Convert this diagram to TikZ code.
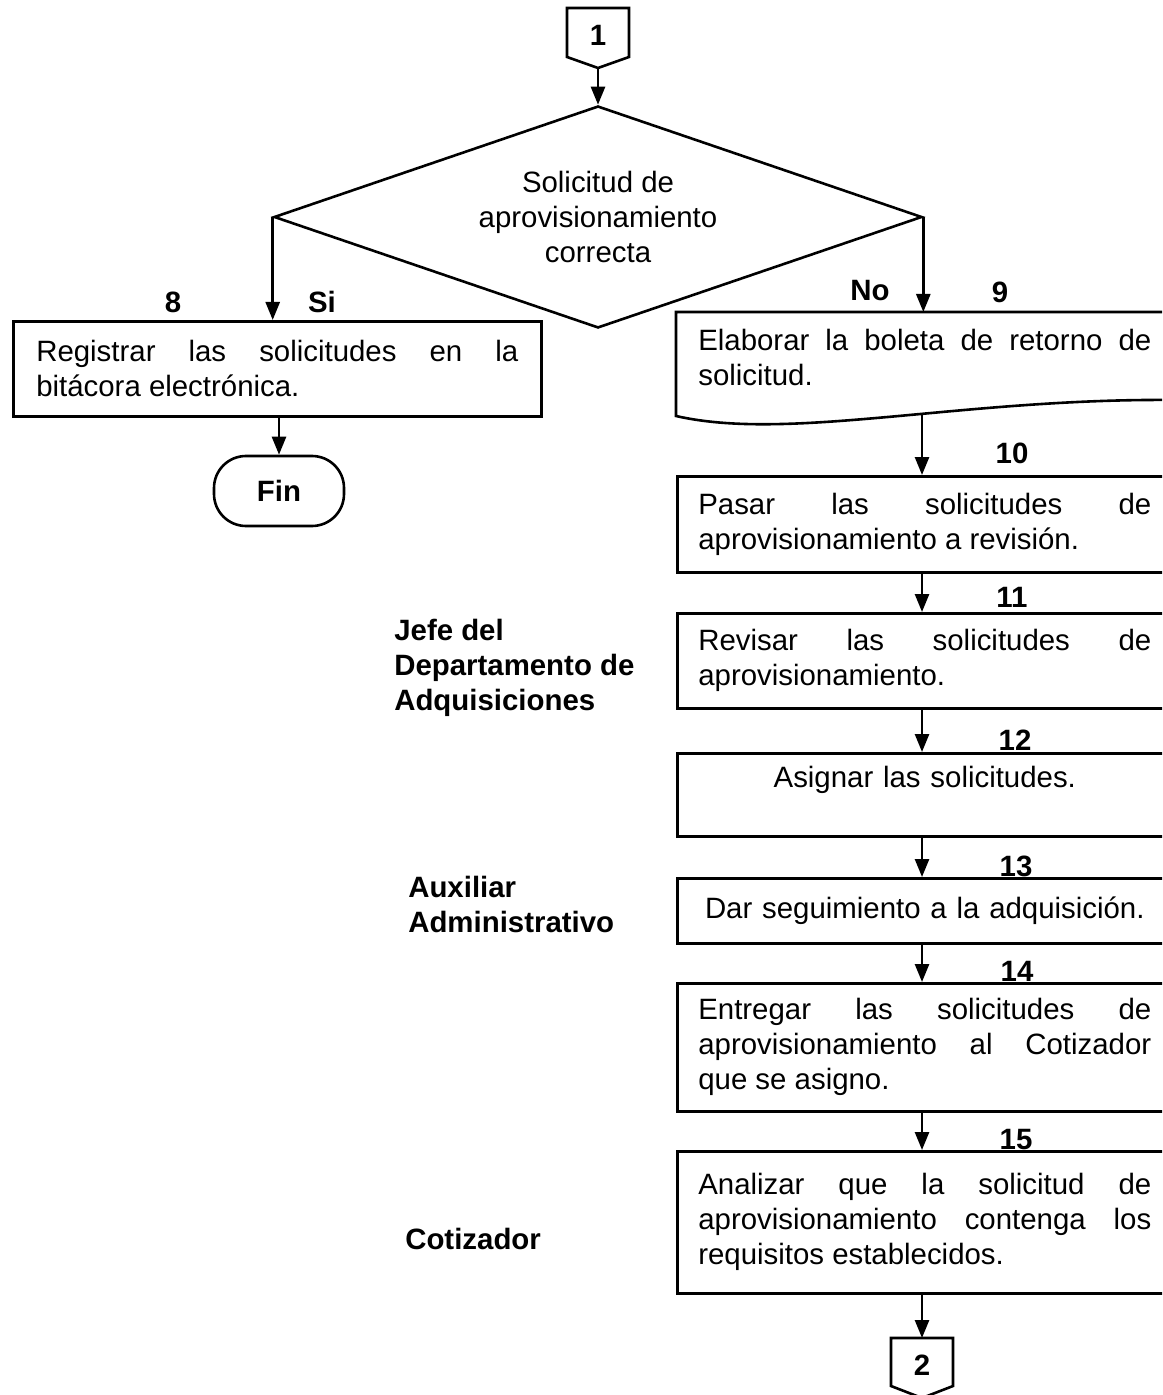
\documentclass[tikz,border=0pt]{standalone}
\usepackage{fontspec}
\setmainfont{Liberation Sans}
\usetikzlibrary{arrows.meta,shapes.geometric}
\newcommand{\flowfs}{\fontsize{14.7pt}{17.5pt}\selectfont}
\begin{document}
\begin{tikzpicture}[x=0.5pt,y=-0.5pt,
  line width=1.3pt,
  every node/.style={font=\flowfs},
  procbox/.style={draw, rectangle, anchor=north west, inner xsep=10.5pt,
    inner ysep=0pt, text width=226.5pt, align=justify},
  flowarrow/.style={-{Triangle[length=9pt,width=7pt]}},
  tag/.style={font=\flowfs\bfseries, inner sep=0pt},
  role/.style={font=\flowfs\bfseries, anchor=west, align=left, inner sep=0pt},
]
\useasboundingbox (0,0) rectangle (1162,1395);
\clip (0,0) rectangle (1162,1395);

% off-page connector 1
\draw (567,8) -- (629,8) -- (629,57) -- (598,68) -- (567,57) -- cycle;
\node[tag] (c1) at (598,35) {1};
\coordinate (c1tip) at (598,68);

% decision
\node[draw, diamond, aspect=2.9, minimum width=324pt, minimum height=111pt,
  inner sep=0pt, align=center] (dia) at (598,217)
  {Solicitud de\\aprovisionamiento\\correcta};
\draw[flowarrow] (c1tip) -- (dia.north);

% left branch
\node[procbox, text width=241pt, inner xsep=11.5pt, minimum height=47.5pt]
  (box8) at (12,320) {Registrar las solicitudes en la\linebreak bitácora electrónica.};
\node[draw, rounded corners=16pt, minimum width=65pt, minimum height=35pt,
  font=\flowfs\bfseries] (fin) at (279,491) {Fin};
\draw[flowarrow] (dia.west) -- (dia.west |- box8.north);
\draw[flowarrow] (fin.north |- box8.south) -- (fin.north);
\node[tag] (l8) at (173,302) {8};
\node[tag] (lsi) at (322,302) {Si};

% right branch: document box 9
\node[procbox, draw=none, minimum height=44pt] (box9) at (676,312)
  {Elaborar la boleta de retorno de\linebreak solicitud.};
\draw (1175,312) -- (676,312) -- (676,416)
  .. controls (790,442) and (960,398) .. (1175,400);
\coordinate (b9out) at (922,414);
\draw[flowarrow] (dia.east) -- (dia.east |- box9.north);
\node[tag] (lno) at (870,291) {No};
\node[tag] (l9) at (1000,292) {9};

% process column
\node[procbox, minimum height=48pt] (box10) at (676,475)
  {Pasar las solicitudes de\linebreak aprovisionamiento a revisión.};
\node[procbox, minimum height=47.5pt] (box11) at (676,612)
  {Revisar las solicitudes de\linebreak aprovisionamiento.};
\node[procbox, align=center, minimum height=41.5pt] (box12) at (676,752)
  {Asignar las solicitudes.\\\mbox{}};
\node[procbox, align=center, minimum height=32.5pt] (box13) at (676,877)
  {Dar seguimiento a la adquisición.};
\node[procbox, minimum height=64pt] (box14) at (676,982)
  {Entregar las solicitudes de\linebreak aprovisionamiento al Cotizador\linebreak que se asigno.};
\node[procbox, minimum height=71pt] (box15) at (676,1150)
  {Analizar que la solicitud de\linebreak aprovisionamiento contenga los\linebreak requisitos establecidos.};

\draw[flowarrow] (b9out) -- (b9out |- box10.north);
\draw[flowarrow] (box10.south -| b9out) -- (box11.north -| b9out);
\draw[flowarrow] (box11.south -| b9out) -- (box12.north -| b9out);
\draw[flowarrow] (box12.south -| b9out) -- (box13.north -| b9out);
\draw[flowarrow] (box13.south -| b9out) -- (box14.north -| b9out);
\draw[flowarrow] (box14.south -| b9out) -- (box15.north -| b9out);

\node[tag] (l10) at (1012,453) {10};
\node[tag] (l11) at (1012,597) {11};
\node[tag] (l12) at (1015,740) {12};
\node[tag] (l13) at (1016,866) {13};
\node[tag] (l14) at (1017,971) {14};
\node[tag] (l15) at (1016,1140) {15};

% off-page connector 2
\draw (891,1338) -- (953,1338) -- (953,1386) -- (922,1398) -- (891,1386) -- cycle;
\node[tag] (c2) at (922,1365) {2};
\coordinate (c2top) at (922,1338);
\draw[flowarrow] (box15.south -| b9out) -- (c2top);

% roles
\node[role] (jefe) at (393,668) {Jefe del\\Departamento de\\Adquisiciones};
\node[role] (aux) at (407,904) {Auxiliar\\Administrativo};
\node[role] (cot) at (404,1239) {Cotizador};
\end{tikzpicture}
\end{document}
